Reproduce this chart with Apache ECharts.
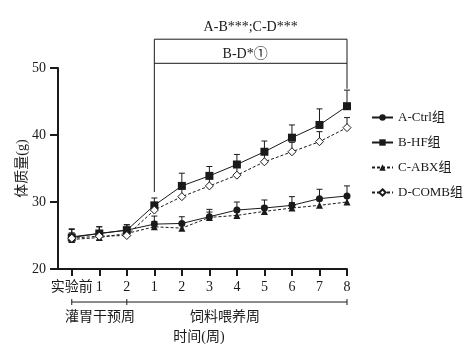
<!DOCTYPE html>
<html>
<head>
<meta charset="utf-8">
<script src="https://cdn.jsdelivr.net/npm/echarts@6/dist/echarts.min.js"></script>
<style>html,body{margin:0;padding:0;background:#fff}#c{width:467px;height:350px}</style>
</head>
<body>
<div id="c"></div>
<script>
const tickLabels = ['实验前','1','2','1','2','3','4','5','6','7','8'];
const seriesNames = ['A-Ctrl组','B-HF组','C-ABX组','D-COMB组'];
const ctrlMean = [24.8,25.3,25.8,26.7,26.8,27.8,28.8,29.1,29.5,30.5,30.9];
const hfMean   = [24.7,25.3,25.8,29.5,32.4,33.9,35.6,37.5,39.6,41.5,44.3];
const abxMean  = [24.4,24.7,25.3,26.3,26.1,27.7,28.0,28.6,29.1,29.5,30.0];
const combMean = [24.6,24.9,25.0,28.8,30.8,32.4,34.0,36.0,37.5,39.0,41.1];
const ctrlErr = [1.2,1.0,0.8,1.2,1.0,1.1,1.2,1.2,1.3,1.4,1.5];
const hfErr   = [1.2,1.0,0.8,1.1,1.9,1.4,1.5,1.6,1.9,2.4,2.4];
const abxErr  = [0.8,0.8,0.8,0.8,0.8,0.8,0.8,0.8,0.8,0.8,0.8];
const combErr = [0.8,0.8,0.8,1.0,1.2,1.2,1.3,1.4,1.4,1.5,1.5];
const yTicks = [20,30,40,50];
// annotation texts
const sigTop = 'A-B***;C-D***';
const sigMid = 'B-D*①';
const phase1 = '灌胃干预周';
const phase2 = '饲料喂养周';

const FONT = "'Liberation Serif','Noto Sans CJK SC',serif";
const INK = '#1a1a1a';

function pts(arr){ return arr.map((v,i)=>[i,v]); }
function errData(mean, err){ return mean.map((v,i)=>[i,v,err[i]]); }

function errSeries(mean, err){
  return {
    type:'custom', z:1, silent:true,
    data: errData(mean, err),
    encode:{x:0,y:[1]},
    renderItem(params, api){
      const x = api.value(0), v = api.value(1), e = api.value(2);
      const p0 = api.coord([x, v]), p1 = api.coord([x, v+e]);
      const style = {stroke:INK, lineWidth:1};
      return {type:'group', children:[
        {type:'line', shape:{x1:p0[0],y1:p0[1],x2:p1[0],y2:p1[1]}, style},
        {type:'line', shape:{x1:p1[0]-3,y1:p1[1],x2:p1[0]+3,y2:p1[1]}, style}
      ]};
    }
  };
}

const chart = echarts.init(document.getElementById('c'), null, {renderer:'canvas'});
const lineBase = (name, data, symbol, size, dashed, hollow) => ({
  name, type:'line', data, z:3,
  symbol, symbolSize:size, showAllSymbol:true,
  lineStyle:{color:INK, width:1, type: dashed ? [3,2] : 'solid'},
  itemStyle:{color: hollow ? '#fff' : INK, borderColor:INK, borderWidth: hollow ? 1 : 0},
  emphasis:{disabled:true}, animation:false
});

const option = {
  animation:false,
  backgroundColor:'#fff',
  grid:{left:58, right:120, top:68, bottom:81, containLabel:false},
  legend:{
    orient:'vertical', left:366, top:106, itemWidth:21, itemHeight:8, itemGap:12,
    data: seriesNames,
    textStyle:{fontFamily:FONT, fontSize:13, color:INK}
  },
  xAxis:{
    type:'value', min:-0.5, max:10,
    name:'时间(周)', nameLocation:'middle', nameGap:61,
    nameTextStyle:{fontFamily:FONT, fontSize:14, color:INK, padding:[0,7,0,0]},
    axisLine:{show:true, onZero:false, lineStyle:{color:INK, width:2}},
    axisTick:{show:true, length:7, lineStyle:{color:INK, width:2}, customValues:[0,1,2,3,4,5,6,7,8,9,10]},
    axisLabel:{show:true, margin:11, fontFamily:FONT, fontSize:14, color:INK,
      customValues:[0,1,2,3,4,5,6,7,8,9,10],
      formatter:(v)=>tickLabels[Math.round(v)]},
    splitLine:{show:false}
  },
  yAxis:{
    type:'value', min:20, max:50, interval:10,
    name:'体质量(g)', nameLocation:'middle', nameGap:29, nameRotate:90,
    nameMoveOverlap:false,
    nameTextStyle:{fontFamily:FONT, fontSize:14, color:INK},
    axisLine:{show:true, onZero:false, lineStyle:{color:INK, width:2}},
    axisTick:{show:true, length:8, lineStyle:{color:INK, width:2}},
    axisLabel:{margin:12, fontFamily:FONT, fontSize:14, color:INK,
      customValues: yTicks},
    splitLine:{show:false}
  },
  series:[
    errSeries(ctrlMean, ctrlErr),
    errSeries(hfMean, hfErr),
    errSeries(abxMean, abxErr),
    errSeries(combMean, combErr),
    lineBase(seriesNames[0], pts(ctrlMean), 'circle', 7, false, false),
    lineBase(seriesNames[1], pts(hfMean), 'rect', 8, false, false),
    lineBase(seriesNames[2], pts(abxMean), 'triangle', 7, true, false),
    lineBase(seriesNames[3], pts(combMean), 'diamond', 8, true, true),
    {
      type:'custom', silent:true, z:2, clip:false,
      data:[[0,0]], encode:{x:0,y:1},
      renderItem(params, api){
        const c = (x,y)=>api.coord([x,y]);
        const ls = {stroke:INK, lineWidth:1};
        const tl = c(3,54.3), tr = c(10,54.3), ml = c(3,50.7), mr = c(10,50.7);
        const lb = c(3,31.5), rb = c(10,46.9);
        const t1 = c(6.5,56.1), t2 = c(6.3,52.1);
        const bl = c(0,15.07), bm = c(2,15.07), br = c(10,15.07);
        const p1 = c(1.03,12.84), p2 = c(5.57,12.84);
        const txt = (p, s) => ({type:'text', style:{x:p[0], y:p[1], text:s, fill:INK,
          font:"14px " + FONT, align:'center', verticalAlign:'middle'}});
        const ln = (a,b) => ({type:'line', shape:{x1:a[0],y1:a[1],x2:b[0],y2:b[1]}, style:ls});
        const vt = (p) => ({type:'line', shape:{x1:p[0],y1:p[1]-3,x2:p[0],y2:p[1]+3}, style:ls});
        return {type:'group', children:[
          ln(tl,tr), ln(ml,mr), ln(tl,lb), ln(tr,rb),
          txt(t1, sigTop), txt(t2, sigMid),
          ln(bl,br), vt(bl), vt(bm), vt(br),
          txt(p1, phase1), txt(p2, phase2)
        ]};
      }
    }
  ]
};
chart.setOption(option);
</script>
</body>
</html>
